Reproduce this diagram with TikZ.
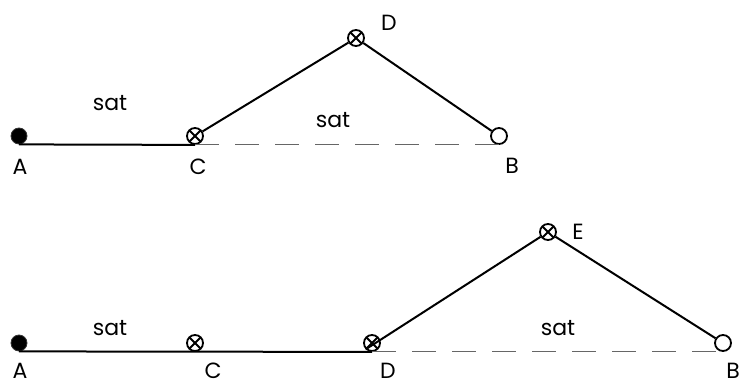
\documentclass[tikz,border=0pt]{standalone}
\usepackage{fontspec}
\setmainfont{Poppins}
\usepackage{xcolor}
\usepackage{tikz}
\usetikzlibrary{arrows.meta, positioning, calc}

\tikzset{
    solidpt/.style={circle, fill=black, draw=black!80, line width=0.8pt, minimum size=16pt, inner sep=0pt},
    openpt/.style={circle, fill=white, draw=black, line width=1.8pt, minimum size=16pt, inner sep=0pt},
    crosspt/.style={circle, fill=white, draw=black, line width=1.8pt, minimum size=16pt, inner sep=0pt,
        path picture={
            \draw[line width=1.8pt] (path picture bounding box.north west) -- (path picture bounding box.south east);
            \draw[line width=1.8pt] (path picture bounding box.north east) -- (path picture bounding box.south west);
        }},
    txt/.style={font=\fontsize{22}{26}\selectfont, inner sep=0pt},
    arm/.style={line width=2pt},
    gap/.style={draw=black!60, line width=1.1pt, dash pattern=on 24pt off 16pt},
}

\begin{document}
\begin{tikzpicture}[x=1pt, y=-1pt]
    \useasboundingbox (0,0) rectangle (743,385);

    % Upper chain
    \node[solidpt] (tA) at (19, 136) {};
    \node[crosspt] (tC) at (195, 136) {};
    \node[crosspt] (tD) at (356, 38) {};
    \node[openpt] (tB) at (499, 136) {};
    \draw[arm] (tA.south) -- (tC.south);
    \draw[gap] (tC.south) -- (tB.south);
    \draw[arm] (tC) -- (tD) -- (tB);
    \node[txt] (tlA) at (20, 167) {A};
    \node[txt] (tlC) at (198, 167) {C};
    \node[txt] (tlD) at (389, 23) {D};
    \node[txt] (tlB) at (512, 166) {B};
    \node[txt] (tsat1) at (110, 103) {sat};
    \node[txt] (tsat2) at (333, 120) {sat};

    % Lower chain
    \node[solidpt] (bA) at (19, 343) {};
    \node[crosspt] (bC) at (195, 343) {};
    \node[crosspt] (bD) at (372, 343) {};
    \node[crosspt] (bE) at (548, 232) {};
    \node[openpt] (bB) at (723, 343) {};
    \draw[arm] (bA.south) -- (bD.south);
    \draw[gap] (bD.south) -- (bB.south);
    \draw[arm] (bD.south west) -- (bE) -- (bB);
    \node[txt] (blA) at (20, 371) {A};
    \node[txt] (blC) at (213, 371) {C};
    \node[txt] (blD) at (388, 371) {D};
    \node[txt] (blE) at (578, 232) {E};
    \node[txt] (blB) at (733, 371) {B};
    \node[txt] (bsat1) at (110, 328) {sat};
    \node[txt] (bsat2) at (558, 328) {sat};
\end{tikzpicture}
\end{document}
